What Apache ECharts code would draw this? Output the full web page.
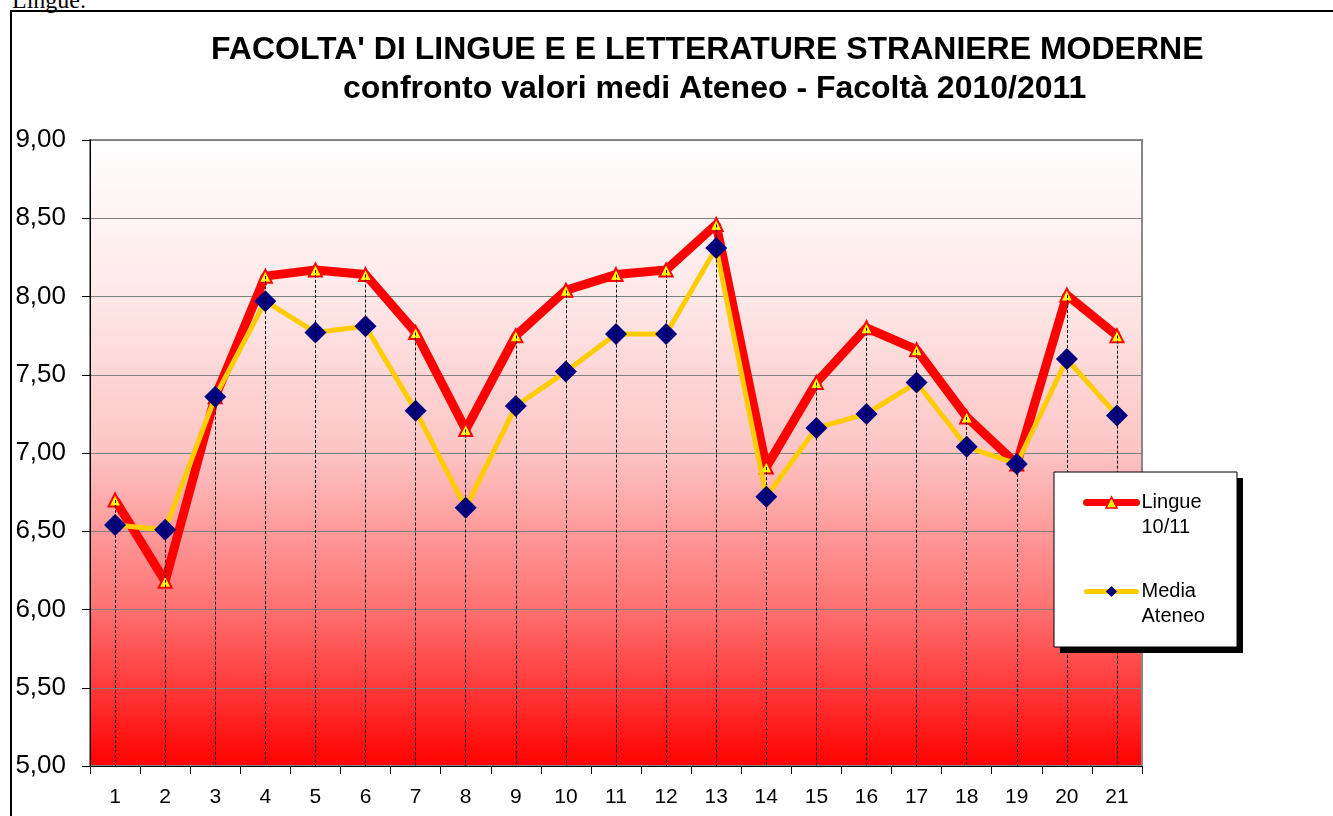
<!DOCTYPE html>
<html>
<head>
<meta charset="utf-8">
<script src="https://cdn.jsdelivr.net/npm/echarts@6/dist/echarts.min.js"></script>
<style>
	html, body { margin: 0; padding: 0; background: #fff; overflow: hidden; }
	#frame { position: absolute; left: 10px; top: 10px; width: 1400px; height: 900px; border: 2px solid #000; box-sizing: border-box; }
	#note { position: absolute; left: 12px; top: -13px; font: 24px "Liberation Serif", "DejaVu Serif", serif; color: #000; }
	#chart { position: absolute; left: 0; top: 0; width: 1333px; height: 816px; }
</style>
</head>
<body>
<div id="note">Lingue.</div>
<div id="frame"></div>
<div id="chart"></div>
<script>
// categorie (domande del questionario)
const categories = ["1", "2", "3", "4", "5", "6", "7", "8", "9", "10", "11", "12", "13", "14", "15", "16", "17", "18", "19", "20", "21"];
// valori medi Lingue 10/11
const lingueValues = [6.70, 6.18, 7.36, 8.13, 8.17, 8.14, 7.77, 7.15, 7.75, 8.04, 8.14, 8.17, 8.46, 6.91, 7.45, 7.80, 7.66, 7.23, 6.93, 8.01, 7.75];
// valori medi di Ateneo
const ateneoValues = [6.54, 6.51, 7.36, 7.97, 7.77, 7.81, 7.27, 6.65, 7.30, 7.52, 7.76, 7.76, 8.31, 6.72, 7.16, 7.25, 7.45, 7.04, 6.93, 7.60, 7.24];
const yTicks = { min: 5, max: 9, interval: 0.5 };

const titleText = "FACOLTA' DI LINGUE E E LETTERATURE STRANIERE MODERNE";
const subtitleText = "confronto valori medi Ateneo - Facoltà 2010/2011";
const legendNames = ["Lingue\n10/11", "Media\nAteneo"];

const FONT = "Liberation Sans, Arial, sans-serif";

// linee di proiezione: dal punto più alto di ogni categoria fino all'asse
const dropLines = categories.map((c, i) => [
	{ coord: [i, Math.max(lingueValues[i], ateneoValues[i])] },
	{ coord: [i, yTicks.min] },
]);

const chart = echarts.init(document.getElementById("chart"), null, { renderer: "canvas" });
chart.setOption({
	animation: false,
	textStyle: { fontFamily: FONT },
	title: [
		{
			text: titleText,
			left: 206,
			top: 29,
			textStyle: { fontSize: 32, fontWeight: "bold", color: "#000", fontFamily: FONT },
		},
		{
			text: subtitleText,
			left: 338,
			top: 68,
			textStyle: { fontSize: 32, fontWeight: "bold", color: "#000", fontFamily: FONT },
		},
	],
	grid: {
		left: 90,
		top: 140,
		width: 1052,
		height: 626,
		show: true,
		borderColor: "#888",
		borderWidth: 2,
		backgroundColor: new echarts.graphic.LinearGradient(0, 0, 0, 1, [
			{ offset: 0, color: "#ffffff" },
			{ offset: 0.25, color: "#fee8e8" },
			{ offset: 0.5, color: "#fdc4c4" },
			{ offset: 0.75, color: "#ff7070" },
			{ offset: 1, color: "#ff0000" },
		]),
	},
	// riquadro della legenda con ombra
	graphic: [
		{ type: "rect", z: 20, silent: true, shape: { x: 1060, y: 478, width: 183, height: 175 }, style: { fill: "#000" } },
		{ type: "rect", z: 21, silent: true, shape: { x: 1054, y: 472, width: 183, height: 175 }, style: { fill: "#fff", stroke: "#000", lineWidth: 1 } },
	],
	legend: {
		orient: "vertical",
		left: 1054,
		top: 465,
		z: 30,
		padding: [0, 20, 0, 29],
		itemGap: 14,
		itemWidth: 50,
		itemHeight: 14,
		formatter: (name) => "\n" + name,
		data: [
			{ name: legendNames[0], lineStyle: { width: 7, cap: "round" }, itemStyle: { borderWidth: 1.5 } },
			{ name: legendNames[1], lineStyle: { width: 5, cap: "round" } },
		],
		textStyle: { fontSize: 20, color: "#000", lineHeight: 25, fontFamily: FONT },
	},
	xAxis: {
		type: "category",
		data: categories,
		boundaryGap: true,
		axisLine: { lineStyle: { color: "#000", width: 1 } },
		axisTick: { show: true, length: 8, lineStyle: { color: "#000" } },
		axisLabel: { fontSize: 21, color: "#000", margin: 21, fontFamily: FONT },
	},
	yAxis: {
		type: "value",
		min: yTicks.min,
		max: yTicks.max,
		interval: yTicks.interval,
		axisLine: { show: true, lineStyle: { color: "#000", width: 1 } },
		axisTick: { show: true, length: 8, lineStyle: { color: "#000" } },
		axisLabel: {
			fontSize: 26,
			color: "#000",
			margin: 24,
			fontFamily: FONT,
			formatter: (v) => v.toFixed(2).replace(".", ","),
		},
		splitLine: { lineStyle: { color: "#808080", width: 1 } },
	},
	series: [
		{
			name: "drop",
			type: "line",
			data: categories.map((c, i) => Math.max(lingueValues[i], ateneoValues[i])),
			symbol: "none",
			lineStyle: { opacity: 0 },
			silent: true,
			z: 1,
			markLine: {
				silent: true,
				symbol: "none",
				label: { show: false },
				lineStyle: { color: "#000", width: 1, type: [3, 2] },
				data: dropLines,
			},
		},
		{
			name: legendNames[0],
			type: "line",
			data: lingueValues,
			z: 3,
			lineStyle: { color: "#ff0000", width: 9 },
			itemStyle: { color: "#ffff00", borderColor: "#ff0000", borderWidth: 2 },
			symbol: "triangle",
			symbolSize: 13,
		},
		{
			name: legendNames[1],
			type: "line",
			data: ateneoValues,
			z: 4,
			lineStyle: { color: "#ffcc00", width: 5 },
			itemStyle: { color: "#000080", borderWidth: 0 },
			symbol: "diamond",
			symbolSize: [22, 22],
		},
	],
});
</script>
</body>
</html>
